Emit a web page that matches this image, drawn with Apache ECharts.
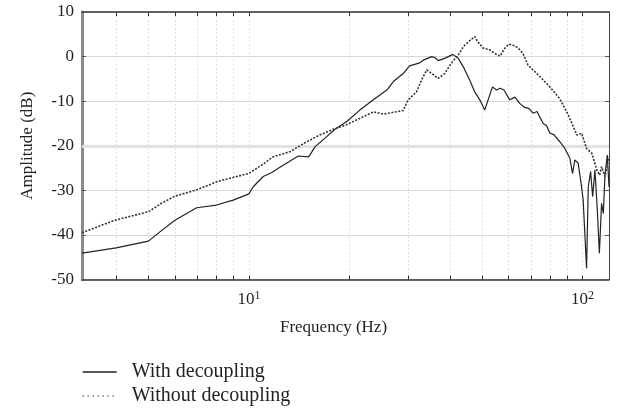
<!DOCTYPE html>
<html>
<head>
<meta charset="utf-8">
<script src="https://cdn.jsdelivr.net/npm/echarts@6/dist/echarts.min.js"></script>
<style>
html,body{margin:0;padding:0;background:#fff;}
#chart{width:617px;height:413px;}
</style>
</head>
<body>
<div id="chart"></div>
<script>
// ---- data ----
var freqWith = [3.16, 4.0, 5.0, 5.35, 6.0, 6.97, 8.0, 8.97, 10.0, 10.3, 11.04, 11.7, 12.7, 14.06, 15.1, 15.8, 16.9, 18.1, 19.6, 21.5, 23.6, 25.9, 27.1, 29.0, 30.3, 32.5, 33.3, 35.3, 36.1, 36.9, 38.6, 40.9, 42.4, 43.9, 45.9, 47.5, 49.2, 50.9, 52.1, 53.7, 55.2, 56.7, 58.1, 60.5, 62.7, 64.8, 67.1, 69.0, 71.1, 73.0, 76.2, 78.0, 79.8, 82.0, 85.5, 88.5, 91.6, 93.3, 94.8, 97.0, 99.3, 100.4, 102.8, 104.0, 105.7, 107.2, 108.9, 110.7, 112.3, 114.0, 115.4, 116.7, 118.6, 120.0];
var ampWith = [-44.1, -42.9, -41.4, -39.6, -36.7, -33.9, -33.3, -32.2, -30.8, -29.2, -26.9, -26.0, -24.3, -22.3, -22.5, -20.2, -18.3, -16.3, -14.6, -12.0, -9.7, -7.5, -5.6, -3.8, -2.1, -1.4, -0.8, 0.0, -0.2, -0.9, -0.4, 0.5, -0.4, -2.3, -5.3, -7.9, -9.7, -12.0, -9.7, -6.8, -7.5, -7.1, -7.5, -9.7, -9.1, -10.5, -11.4, -11.6, -12.7, -12.3, -15.0, -15.5, -17.2, -17.5, -19.1, -20.6, -22.8, -26.2, -23.2, -23.9, -29.2, -32.2, -47.5, -29.2, -25.8, -31.4, -25.4, -34.4, -44.1, -32.9, -35.2, -26.6, -22.1, -29.2];

var freqWithout = [3.16, 3.97, 5.0, 5.47, 6.0, 6.97, 8.0, 8.97, 10.0, 11.04, 11.8, 13.3, 14.9, 16.3, 17.9, 19.6, 22.0, 23.6, 25.3, 29.0, 30.0, 31.8, 32.9, 34.1, 35.3, 36.9, 38.6, 40.4, 42.4, 43.9, 45.9, 47.5, 48.5, 50.4, 52.7, 54.6, 56.5, 58.5, 60.2, 62.7, 64.1, 66.3, 68.6, 69.5, 74.5, 79.8, 85.5, 90.6, 94.8, 96.0, 99.3, 102.8, 106.6, 110.3, 112.5, 114.0, 116.7, 119.7];
var ampWithout = [-39.5, -36.7, -34.8, -32.9, -31.3, -29.9, -28.1, -27.1, -26.2, -24.1, -22.5, -21.3, -19.1, -17.6, -16.3, -15.3, -13.5, -12.4, -12.9, -12.1, -9.7, -7.9, -5.3, -3.0, -3.8, -4.9, -3.8, -1.5, 0.35, 2.2, 3.6, 4.5, 3.3, 1.9, 1.5, 0.7, 0.1, 1.9, 2.8, 2.4, 1.9, 0.7, -1.9, -2.3, -4.5, -6.8, -9.5, -13.1, -16.5, -17.6, -17.2, -20.6, -21.7, -25.4, -26.6, -24.7, -26.9, -22.5];

var xLabelValues = [10, 100];
var xTickValues = [4, 5, 6, 7, 8, 9, 10, 20, 30, 40, 50, 60, 70, 80, 90, 100];
var seriesNames = ['With decoupling', 'Without decoupling'];

function pairs(xs, ys) {
  return xs.map(function (x, i) { return [x, ys[i]]; });
}

var FONT = 'Liberation Serif';
var TXT = '#231f20';

var chart = echarts.init(document.getElementById('chart'), null, {renderer: 'canvas'});

function xAxisCfg(extra) {
  var base = {
    type: 'log',
    logBase: 10,
    min: 3.16,
    max: 120,
    axisLine: {show: true, onZero: false, lineStyle: {color: '#333', width: 1.5}},
    axisTick: {show: true, inside: true, length: 4, customValues: xTickValues, lineStyle: {color: '#333', width: 1}},
    minorTick: {show: false},
    splitLine: {show: false},
    axisLabel: {show: false}
  };
  return Object.assign(base, extra);
}

function legendCfg(name, top, lineStyle) {
  return {
    orient: 'horizontal',
    left: 82,
    top: top,
    padding: 0,
    itemWidth: 34,
    itemHeight: 14,
    textStyle: {fontFamily: FONT, fontSize: 20, color: TXT},
    formatter: function (n) { return '  ' + n; },
    data: [{name: name, itemStyle: {opacity: 0}, lineStyle: lineStyle}]
  };
}

var option = {
  animation: false,
  backgroundColor: '#fff',
  grid: {left: 82, right: 8, top: 12, bottom: 133.5, containLabel: false},
  xAxis: [
    xAxisCfg({
      position: 'bottom',
      splitLine: {show: true, lineStyle: {color: '#e2e2e2', width: 1, type: [2, 2]}},
      axisLabel: {
        show: true,
        customValues: xLabelValues,
        margin: 10,
        formatter: function (v) {
          var e = Math.round(Math.log(v) / Math.LN10);
          return '{b|10}{s|' + e + '}';
        },
        rich: {
          b: {fontFamily: FONT, fontSize: 17, color: TXT, lineHeight: 20},
          s: {fontFamily: FONT, fontSize: 12, color: TXT, lineHeight: 12, verticalAlign: 'top'}
        }
      },
      name: 'Frequency (Hz)',
      nameLocation: 'middle',
      nameGap: 40,
      nameTextStyle: {fontFamily: FONT, fontSize: 17, color: TXT, padding: [0, 24, 0, 0]}
    }),
    xAxisCfg({position: 'top'})
  ],
  yAxis: [
    {
      type: 'value',
      position: 'left',
      min: -50,
      max: 10,
      interval: 10,
      axisLine: {show: true, onZero: false, lineStyle: {color: '#8a8a8a', width: 3}},
      axisTick: {show: true, inside: true, length: 4, lineStyle: {color: '#555'}},
      splitLine: {show: true, lineStyle: {color: '#d8d8d8', width: 1}},
      axisLabel: {fontFamily: FONT, fontSize: 17, color: TXT, margin: 8},
      name: 'Amplitude (dB)',
      nameLocation: 'middle',
      nameGap: 46,
      nameTextStyle: {fontFamily: FONT, fontSize: 17, color: TXT}
    },
    {
      type: 'value',
      position: 'right',
      min: -50,
      max: 10,
      interval: 10,
      axisLine: {show: true, onZero: false, lineStyle: {color: '#444', width: 1}},
      axisTick: {show: true, inside: true, length: 4, lineStyle: {color: '#555'}},
      splitLine: {show: false},
      axisLabel: {show: false}
    }
  ],
  legend: [
    legendCfg(seriesNames[0], 362, {color: '#222', width: 1.3, type: 'solid'}),
    legendCfg(seriesNames[1], 386, {color: '#333', width: 1.3, type: [1, 4]})
  ],
  series: [
    {
      name: seriesNames[0],
      type: 'line',
      xAxisIndex: 0,
      yAxisIndex: 0,
      data: pairs(freqWith, ampWith),
      showSymbol: false,
      symbol: 'none',
      lineStyle: {color: '#222', width: 1.2, type: 'solid'},
      itemStyle: {color: '#222'},
      z: 3,
      markLine: {
        silent: true,
        symbol: 'none',
        z: 1,
        label: {show: false},
        lineStyle: {color: '#e2e2e2', width: 3, type: 'solid'},
        data: [{yAxis: -20}]
      }
    },
    {
      name: seriesNames[1],
      type: 'line',
      xAxisIndex: 0,
      yAxisIndex: 0,
      data: pairs(freqWithout, ampWithout),
      showSymbol: false,
      symbol: 'none',
      lineStyle: {color: '#333', width: 1.6, type: [2, 1.5]},
      itemStyle: {color: '#333'},
      z: 3
    }
  ]
};
chart.setOption(option);
</script>
</body>
</html>
